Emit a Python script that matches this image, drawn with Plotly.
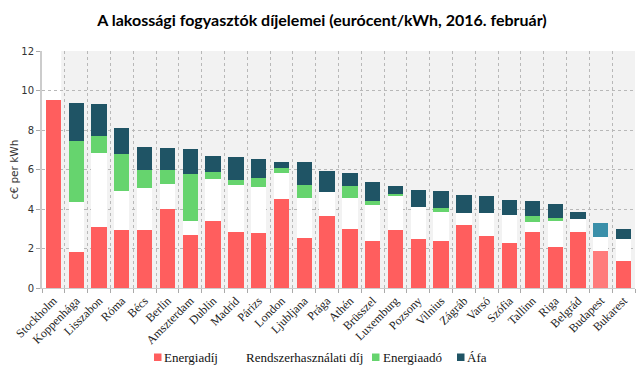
import plotly.graph_objects as go

cities = ["Stockholm", "Koppenhága", "Lisszabon", "Róma", "Bécs", "Berlin", "Amszterdam",
          "Dublin", "Madrid", "Párizs", "London", "Ljubljana", "Prága", "Athén", "Brüsszel",
          "Luxemburg", "Pozsony", "Vilnius", "Zágráb", "Varsó", "Szófia", "Tallinn", "Riga",
          "Belgrád", "Budapest", "Bukarest"]

energiadij = [9.52, 1.84, 3.07, 2.94, 2.94, 3.98, 2.70, 3.41, 2.84, 2.78, 4.52, 2.53, 3.65,
              2.99, 2.40, 2.95, 2.46, 2.38, 3.19, 2.63, 2.26, 2.85, 2.09, 2.84, 1.89, 1.37]
rendszer = [0.0, 2.50, 3.78, 1.97, 2.14, 1.27, 0.69, 2.11, 2.39, 2.35, 1.32, 2.04, 1.23,
            1.57, 1.82, 1.73, 1.66, 1.47, 0.59, 1.17, 1.45, 0.47, 1.29, 0.64, 0.69, 1.11]
energiaado = [0.0, 3.12, 0.86, 1.89, 0.89, 0.72, 2.40, 0.34, 0.24, 0.46, 0.22, 0.63, 0.0,
              0.60, 0.19, 0.10, 0.0, 0.20, 0.0, 0.0, 0.0, 0.34, 0.15, 0.0, 0.0, 0.0]
afa = [0.0, 1.89, 1.61, 1.28, 1.19, 1.14, 1.23, 0.82, 1.15, 0.92, 0.30, 1.16, 1.04,
       0.66, 0.94, 0.40, 0.84, 0.88, 0.93, 0.87, 0.76, 0.73, 0.74, 0.35, 0.73, 0.52]

series_names = ["Energiadíj", "Rendszerhasználati díj", "Energiaadó", "Áfa"]

highlight = "Budapest"
RED, RED_HL = "#ff5e5e", "#ff7b7b"
WHITE = "#ffffff"
GREEN = "#66d46e"
DARK, DARK_HL = "#1f5465", "#3a8fa9"

red_colors = [RED_HL if c == highlight else RED for c in cities]
dark_colors = [DARK_HL if c == highlight else DARK for c in cities]

fig = go.Figure()
fig.add_bar(x=cities, y=energiadij, name=series_names[0], marker=dict(color=red_colors, line=dict(width=0)))
fig.add_bar(x=cities, y=rendszer, name=series_names[1], marker=dict(color=WHITE, line=dict(width=0)))
fig.add_bar(x=cities, y=energiaado, name=series_names[2], marker=dict(color=GREEN, line=dict(width=0)))
fig.add_bar(x=cities, y=afa, name=series_names[3], marker=dict(color=dark_colors, line=dict(width=0)))

# white band behind the first category
fig.add_shape(type="rect", xref="x", yref="paper", x0=-0.5, x1=0.34, y0=0, y1=1,
              fillcolor="white", line=dict(width=0), layer="below")

# ---- layout geometry (page has an 8px body margin) ----
W, H = 636, 363
ML, MR, MT, MB = 34, 9, 43, 83
PW, PH = W - ML - MR, H - MT - MB


def px(img_x):
    return (img_x - 8 - ML) / PW


def py(img_y):
    return (H - MB - (img_y - 8)) / PH


# ---- legend drawn as swatches + text ----
legend_items = [
    (series_names[0], RED, 154, 163),
    (series_names[1], None, None, 245),
    (series_names[2], GREEN, 372, 382),
    (series_names[3], DARK, 457, 466),
]
for name, col, sx, tx in legend_items:
    if col is not None:
        fig.add_shape(type="rect", xref="paper", yref="paper",
                      x0=px(sx), x1=px(sx + 7.5), y0=py(361), y1=py(353.5),
                      fillcolor=col, line=dict(width=0))
    fig.add_annotation(text=name, xref="paper", yref="paper", x=px(tx - 1), y=py(357.5),
                       xanchor="left", yanchor="middle", showarrow=False,
                       font=dict(family="Liberation Serif", size=13, color="#111111"))

fig.update_layout(
    barmode="stack",
    bargap=0.33,
    width=W, height=H,
    margin=dict(l=ML, r=MR, t=MT, b=MB),
    paper_bgcolor="white",
    plot_bgcolor="#f2f2f2",
    title=dict(text="<b>A lakossági fogyasztók díjelemei (eurócent/kWh, 2016. február)</b>",
               x=314 / W, xref="container", xanchor="center",
               y=1 - 12 / H, yref="container", yanchor="middle",
               font=dict(family="Lato", size=16, color="#000000")),
    showlegend=False,
)

fig.update_xaxes(
    automargin=False,
    tickangle=-45,
    tickfont=dict(family="Liberation Serif", size=12, color="#222222"),
    tickson="boundaries",
    ticks="outside", ticklen=4, tickcolor="#aaaaaa",
    showgrid=True, gridcolor="#b8b8b8", griddash="dot", gridwidth=1,
    showline=True, linecolor="#cccccc", linewidth=1,
    range=[-0.5, len(cities) - 0.5],
)
fig.update_yaxes(
    automargin=False,
    range=[0, 12], dtick=2,
    tickfont=dict(family="DejaVu Sans", size=10, color="#333333"),
    ticks="outside", ticklen=4, tickcolor="#aaaaaa",
    showgrid=True, gridcolor="#b8b8b8", griddash="dot", gridwidth=1,
    showline=True, linecolor="#cccccc", linewidth=2,
    zeroline=False,
    title=dict(text="c€ per kWh", font=dict(family="DejaVu Sans", size=10.5, color="#333333"), standoff=10),
)

fig.write_html("out.html")
